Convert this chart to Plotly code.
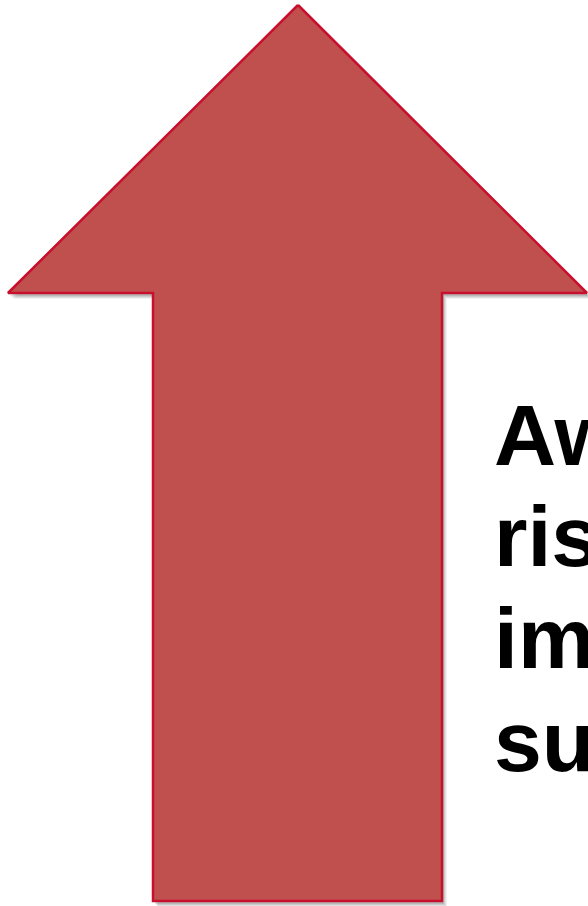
import plotly.graph_objects as go

# Arrow outline (pixel-space canvas 588 x 906, y downward)
arrow_x = [298, 587, 442, 442, 153, 153, 8, 298]
arrow_y = [5, 293, 293, 901, 901, 293, 293, 5]

# Text lines (clipped at right edge as in the reference)
text_lines = ["Aw", "ris", "im", "su"]
text_baselines = [465, 566, 668, 771]
text_left = 492
font_size = 86

fill_color = "#C0504D"
line_color = "#C8102E"

fig = go.Figure()

# soft shadow
for dx, dy, a in [(5, 6, 0.05), (4, 5, 0.07), (3, 4, 0.09), (2, 3, 0.10)]:
    fig.add_trace(go.Scatter(
        x=[v + dx for v in arrow_x], y=[v + dy for v in arrow_y],
        mode="lines", fill="toself",
        fillcolor=f"rgba(0,0,0,{a})", line=dict(width=0, color="rgba(0,0,0,0)"),
        hoverinfo="skip", showlegend=False))

fig.add_trace(go.Scatter(
    x=arrow_x, y=arrow_y, mode="lines", fill="toself",
    fillcolor=fill_color, line=dict(color=line_color, width=2.5),
    hoverinfo="skip", showlegend=False))

ascent = 0.905 * font_size
descent = 0.212 * font_size
for txt, base in zip(text_lines, text_baselines):
    mid = base - ascent + (ascent + descent) / 2
    fig.add_annotation(
        x=text_left, y=mid, xref="x", yref="y",
        xanchor="left", yanchor="middle", showarrow=False,
        text=txt, align="left",
        font=dict(family="Liberation Sans, Arial, sans-serif", size=font_size,
                  color="black", weight="bold"))

fig.update_layout(
    width=588, height=906,
    margin=dict(l=0, r=0, t=0, b=0),
    paper_bgcolor="white", plot_bgcolor="white",
    xaxis=dict(range=[0, 588], visible=False, fixedrange=True),
    yaxis=dict(range=[906, 0], visible=False, fixedrange=True),
    showlegend=False,
)

fig.write_html(
    "out.html",
    config={"displayModeBar": False},
    post_script="document.body.style.margin='0';document.body.style.overflow='hidden';",
)
